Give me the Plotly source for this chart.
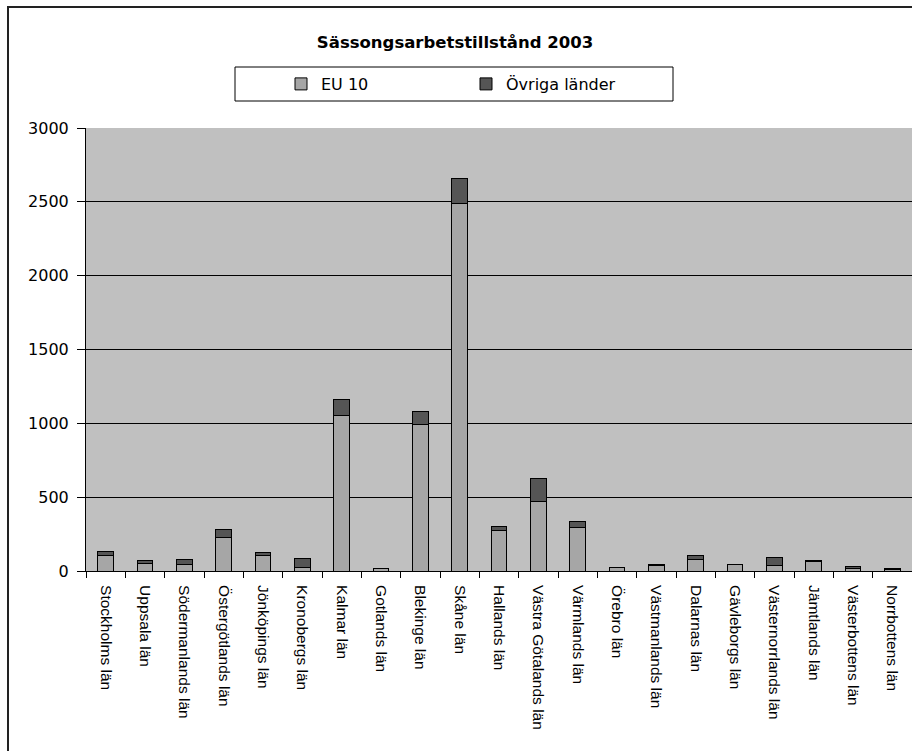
import plotly.graph_objects as go

counties = ["Stockholms län", "Uppsala län", "Södermanlands län", "Östergötlands län",
            "Jönköpings län", "Kronobergs län", "Kalmar län", "Gotlands län",
            "Blekinge län", "Skåne län", "Hallands län", "Västra Götalands län",
            "Värmlands län", "Örebro län", "Västmanlands län", "Dalarnas län",
            "Gävleborgs län", "Västernorrlands län", "Jämtlands län",
            "Västerbottens län", "Norrbottens län"]
eu10 = [105, 54, 43, 226, 106, 25, 1055, 20, 990, 2490, 272, 472, 296, 25, 34, 80, 45, 38, 61, 20, 10]
ovriga = [25, 14, 36, 58, 18, 58, 105, 0, 88, 170, 28, 153, 36, 0, 11, 28, 0, 55, 11, 12, 6]
yticks = [0, 500, 1000, 1500, 2000, 2500, 3000]

WIDE = "DejaVu Sans, Verdana, sans-serif"
ARIAL = "Liberation Sans, Arial, sans-serif"

fig = go.Figure()
fig.add_trace(go.Bar(x=counties, y=eu10, name="EU 10",
                     marker=dict(color="#A6A6A6", line=dict(color="#000000", width=1))))
fig.add_trace(go.Bar(x=counties, y=ovriga, name="Övriga länder",
                     marker=dict(color="#555555", line=dict(color="#000000", width=1))))

L, R, T, B = 86, 0, 128, 180
W, H = 912, 751
pw, ph = W - L - R, H - T - B

def px(x):
    return (x - L) / pw

def py(y):
    return (H - B - y) / ph

fig.update_layout(
    width=W, height=H,
    margin=dict(l=L, r=R, t=T, b=B, pad=0),
    barmode="stack", bargap=0.6,
    paper_bgcolor="white", plot_bgcolor="#C0C0C0",
    font=dict(family=WIDE, size=14, color="black"),
    title=dict(text="<b>Sässongsarbetstillstånd 2003</b>", x=455 / W, xanchor="center",
               y=1 - 42 / H, yanchor="middle", font=dict(size=16.5, family=WIDE, color="black")),
    showlegend=True,
    legend=dict(orientation="h", x=px(281), xanchor="left", y=py(84), yanchor="middle",
                bgcolor="rgba(0,0,0,0)", borderwidth=0,
                entrywidth=140, entrywidthmode="pixels",
                font=dict(size=16, family=WIDE), traceorder="normal"),
    xaxis=dict(tickangle=90, ticks="outside", tickson="boundaries", ticklen=6,
               tickcolor="black", showline=True, linecolor="black", linewidth=1,
               showgrid=False, ticklabelstandoff=10, tickfont=dict(size=15.5, family=ARIAL)),
    yaxis=dict(range=[0, 3000], tickvals=yticks, ticks="outside", ticklen=8,
               tickcolor="black", showline=True, linecolor="black", linewidth=1,
               showgrid=True, gridcolor="black", gridwidth=1, zeroline=False,
               ticklabelstandoff=5, tickfont=dict(size=16, family=WIDE)),
    shapes=[
        dict(type="rect", xref="paper", yref="paper", x0=px(8), x1=px(960), y0=py(7), y1=py(800),
             line=dict(color="#222222", width=2), fillcolor="rgba(0,0,0,0)", layer="above"),
        dict(type="rect", xref="paper", yref="paper", x0=px(235), x1=px(673), y0=py(67), y1=py(101),
             line=dict(color="black", width=1), fillcolor="rgba(0,0,0,0)"),
    ],
)

fig.write_html("out.html")
